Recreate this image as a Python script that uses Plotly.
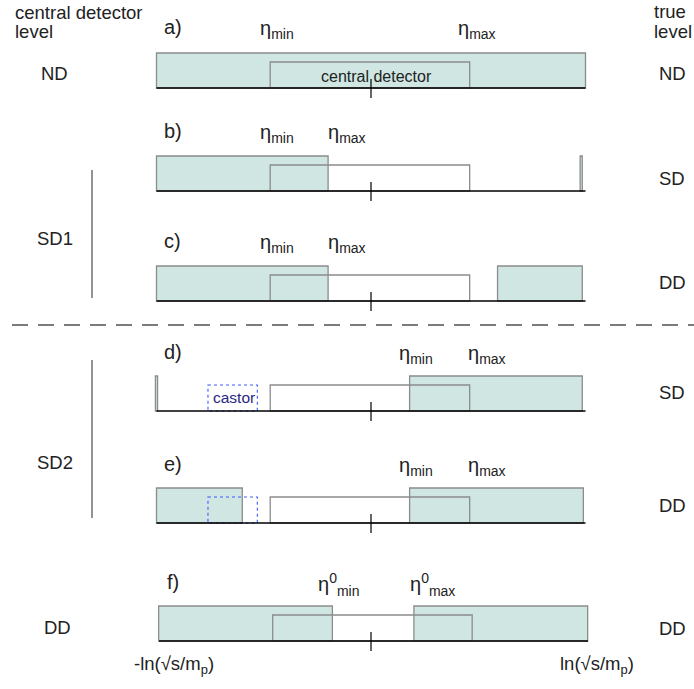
import plotly.graph_objects as go

# ---- data (pseudorapidity units; -10 .. 10 = -ln(sqrt s/m_p) .. ln(sqrt s/m_p)) ----
panels = ["a)", "b)", "c)", "d)", "e)", "f)"]
central_level = ["ND", "SD1", "SD1", "SD2", "SD2", "DD"]
true_level = ["ND", "SD", "DD", "SD", "DD", "DD"]
eta_full = [-10.0, 10.0]
central_detector = [-4.7, 4.6]
castor = [-7.6, -5.3]
# filled (true activity) regions per panel
teal_regions = [
    [(-10.0, 10.0)],
    [(-10.0, -2.0), (9.75, 9.85)],
    [(-10.0, -2.0), (5.9, 9.85)],
    [(-10.05, -9.95), (1.8, 9.85)],
    [(-10.0, -6.0), (1.8, 9.9)],
    [(-9.9, -1.8), (2.0, 10.1)],
]
castor_shown = [False, False, False, True, True, False]
eta_labels = [
    ("η<sub>min</sub>", "η<sub>max</sub>"),
    ("η<sub>min</sub>", "η<sub>max</sub>"),
    ("η<sub>min</sub>", "η<sub>max</sub>"),
    ("η<sub>min</sub>", "η<sub>max</sub>"),
    ("η<sub>min</sub>", "η<sub>max</sub>"),
    ("η<sup>0</sup><sub>min</sub>", "η<sup>0</sup><sub>max</sub>"),
]

# ---- layout geometry (pixels) ----
W, H = 694, 689
X0, SCALE = 371.0, 21.45  # pixel of eta=0, pixels per unit


def px(e):
    return X0 + e * SCALE


def ex(p):
    return (p - X0) / SCALE


baselines = [88, 191, 301, 411, 523, 641]
panel_dx = [0, 0, 0, 0, 0, 2.5]
label_y = [29, 133, 243, 354, 466, 584]
eta_label_px = [(258, 456), (258, 326), (258, 326), (397, 466), (397, 466), (316, 408)]
TEAL_H, CENT_H = 35, 26
TEAL = "rgb(207,230,226)"
EDGE = "rgb(140,140,140)"
FONT = "Liberation Sans, Arial, sans-serif"
LBL = 18.5

shapes = []
ann = []


def rect(x0, x1, y0, y1, fill, line, width=1.2, dash="solid"):
    shapes.append(dict(type="rect", xref="x", yref="y", x0=x0, x1=x1, y0=y0, y1=y1,
                       fillcolor=fill, line=dict(color=line, width=width, dash=dash), layer="above"))


def line(x0, y0, x1, y1, color, width=1.2, dash="solid"):
    shapes.append(dict(type="line", xref="x", yref="y", x0=x0, x1=x1, y0=y0, y1=y1,
                       line=dict(color=color, width=width, dash=dash), layer="above"))


def text(x, y, s, size=16, color="#222", xanchor="center"):
    ann.append(dict(x=x, y=y, xref="x", yref="y", text=s, showarrow=False,
                    font=dict(family=FONT, size=size, color=color), xanchor=xanchor, yanchor="middle"))


for i, name in enumerate(panels):
    yb = baselines[i]
    d = panel_dx[i] / SCALE
    c0, c1 = central_detector[0] + d, central_detector[1] + d
    # central detector white fill (under teal)
    rect(c0, c1, yb - CENT_H, yb, "white", "rgba(0,0,0,0)", 0)
    for (a, b) in teal_regions[i]:
        rect(a, b, yb - TEAL_H, yb, TEAL, EDGE, 1.3)
    if castor_shown[i]:
        rect(castor[0], castor[1], yb - CENT_H, yb, "rgba(0,0,0,0)", "rgb(60,90,255)", 1.1, "dot")
    # central detector outline
    rect(c0, c1, yb - CENT_H, yb, "rgba(0,0,0,0)", EDGE, 1.3)
    # baseline and centre tick
    line(eta_full[0] + d, yb, eta_full[1] + d, yb, "black", 1.3)
    line(0, yb - 9, 0, yb + 10, "black", 1.2)
    # labels
    text(ex(162 + panel_dx[i]), label_y[i] - 2, name, 20, xanchor="left")
    lx0, lx1 = eta_label_px[i]
    text(ex(lx0), label_y[i], eta_labels[i][0], 20, xanchor="left")
    text(ex(lx1), label_y[i], eta_labels[i][1], 20, xanchor="left")

text(ex(376), 76, "central detector", 16)
text(ex(234), 397, "castor", 15.5, color="rgb(40,40,130)")

# left column
text(ex(13), 12, "central detector", LBL, xanchor="left")
text(ex(13), 31, "level", LBL, xanchor="left")
text(ex(54), 73, central_level[0], LBL)
text(ex(55), 238, central_level[1], LBL)
text(ex(55), 462, central_level[3], LBL)
text(ex(57), 627, central_level[5], LBL)
line(ex(92), 170, ex(92), 298, "rgb(90,90,90)", 1.3)
line(ex(92), 360, ex(92), 518, "rgb(90,90,90)", 1.3)

# right column
text(ex(652), 11, "true", LBL, xanchor="left")
text(ex(652), 31, "level", LBL, xanchor="left")
for i, yy in enumerate([73, 178, 282, 392, 505, 628]):
    text(ex(672), yy, true_level[i], LBL)

# separator
line(ex(12), 325, ex(694), 325, "rgb(80,80,80)", 1.5, "16px,10px")

# axis end labels
text(ex(174), 665, "-ln(√s/m<sub>p</sub>)", LBL)
text(ex(597), 665, "ln(√s/m<sub>p</sub>)", LBL)

fig = go.Figure()
fig.add_trace(go.Scatter(x=[ex(0), ex(W)], y=[0, H], mode="markers",
                         marker=dict(opacity=0), hoverinfo="skip", showlegend=False))
fig.update_layout(
    width=W, height=H, margin=dict(l=0, r=0, t=0, b=0),
    paper_bgcolor="white", plot_bgcolor="white",
    xaxis=dict(range=[ex(0), ex(W)], visible=False, fixedrange=True),
    yaxis=dict(range=[H, 0], visible=False, fixedrange=True),
    shapes=shapes, annotations=ann, showlegend=False,
)
fig.write_html("out.html")
